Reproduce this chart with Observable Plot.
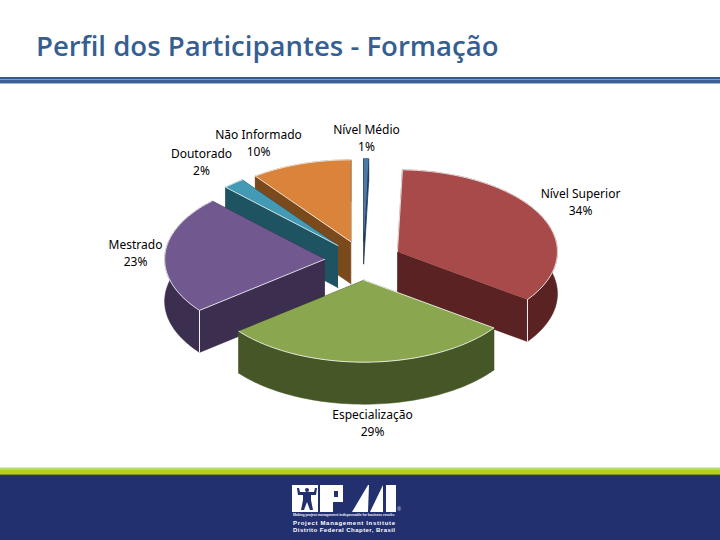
<!DOCTYPE html>
<html>
<head>
<meta charset="utf-8">
<script src="https://cdn.jsdelivr.net/npm/d3@7"></script>
<script src="https://cdn.jsdelivr.net/npm/@observablehq/plot@0.6"></script>
<style>
html,body{margin:0;padding:0;background:#fff;overflow:hidden}
#page{position:relative;width:720px;height:540px;overflow:hidden}
#title{position:absolute;left:36px;top:27px;font:600 27.55px/38px "Open Sans",sans-serif;color:#365f91;white-space:nowrap}
#rule{position:absolute;left:0;top:77px;width:720px;height:7px;background:linear-gradient(#35598c 0 2px,#7f9cc0 2px 3px,#3a5f94 3px 6px,#a9b9d0 6px 7px)}
#chart{position:absolute;left:0;top:90px}
#chart svg{display:block;background:transparent}
#foot{position:absolute;left:0;top:467px;width:720px;height:73px;background:#22306f}
#stripes{position:absolute;left:0;top:0;width:720px;height:9px;background:linear-gradient(#dfe9c8 0 1px,#b8d67a 1px 3px,#b6cf1e 3px 7px,#7f8f2a 7px 8px,#2c3a6a 8px 9px)}
#logo{position:absolute;left:0;top:0}
</style>
</head>
<body>
<div id="page">
  <div id="title">Perfil dos Participantes - Formação</div>
  <div id="rule"></div>
  <div id="chart"></div>
  <div id="foot">
    <div id="stripes"></div>
    <svg id="logo" width="720" height="73" viewBox="0 467 720 73">
      <rect x="292" y="485" width="104" height="27" fill="#fff"/>
      <g fill="#22306f">
        <circle cx="307" cy="490" r="2"/>
        <path d="M297 488l2 0 1 4h14l1-4h2l-1 7h-5v5l2 10h-3l-3-8-3 8h-3l2-10v-5h-5z"/>
        <rect x="318" y="485" width="2" height="27"/>
        <rect x="334" y="491" width="4" height="6"/>
        <path d="M333 502h10l0-17h10l-10 27h-10z"/>
        <path d="M369 485h14l-13 27h-2z"/>
        <path d="M343 485h25l-16 27h-9z"/>
        <rect x="383" y="485" width="3" height="27"/>
      </g>
      <text x="293" y="516" fill="#e6e9f4" font-family="Liberation Sans" font-weight="700" font-size="3.6" textLength="102">Making project management indispensable for business results.</text>
      <text x="293" y="524.6" fill="#fff" font-family="Liberation Sans" font-weight="700" font-size="6" textLength="102">Project Management Institute</text>
      <text x="293" y="532.4" fill="#fff" font-family="Liberation Sans" font-weight="700" font-size="6" textLength="102">Distrito Federal Chapter, Brasil</text>
      <text x="399" y="511" fill="#dfe3f0" font-family="Liberation Sans" font-size="5" text-anchor="middle">®</text>
    </svg>
  </div>
</div>
<script>
// Data, clockwise from twelve o'clock
const categories = ["Nível Médio","Nível Superior","Especialização","Mestrado","Doutorado","Não Informado"];
const shares     = [0.5, 34.4, 29.4, 23.3, 2.2, 10.2];
const percentLabels = ["1%","34%","29%","23%","2%","10%"];
const topColors  = ["#4a78a8","#a94a4a","#8aa64e","#71588f","#429ab4","#da843b"];
const sideColors = ["#1f3a5a","#5a2222","#465727","#3c2e4f","#1e5362","#7b4a1c"];

// Projection of the tilted pie (unit circle mapped to an ellipse by the scales)
const cx = 362.5, cy = 170, rx = 160, ry = 82;
const explode = 0.24, depth = 0.512, thinDepth = 0.28;
const labelCentres = {           // page pixels of the two-line label centres
  "Nível Médio":[366,136.5], "Nível Superior":[580,200.5], "Especialização":[372,421.5],
  "Mestrado":[135,251.5], "Doutorado":[201,160.5], "Não Informado":[258,141.5]
};
const drawOrder = ["Nível Médio","Não Informado","Doutorado","Mestrado","Nível Superior","Especialização"];
const cornerSlices = ["Mestrado","Nível Superior"];

const arcs = d3.pie().sort(null).value(d => d)(shares);
const polys = [];
let pid = 0;
function addPoly(pts, fill, stroke, strokeWidth){
  const id = pid++;
  pts.forEach(([x,y]) => polys.push({x,y,id,fill,stroke,strokeWidth}));
}
function sliceGeom(i){
  const a = arcs[i], mid = (a.startAngle + a.endAngle)/2;
  const ax = explode*Math.sin(mid), ay = explode*Math.cos(mid);
  const n = Math.max(2, Math.ceil((a.endAngle-a.startAngle)/0.03));
  const rim = d3.range(n+1).map(k => {
    const t = a.startAngle + (a.endAngle-a.startAngle)*k/n;
    return [ax+Math.sin(t), ay+Math.cos(t)];
  });
  return {ax, ay, rim};
}
drawOrder.forEach(name => {
  const i = categories.indexOf(name);
  const {ax, ay, rim} = sliceGeom(i);
  const d = shares[i] < 1 ? thinDepth : depth;
  const down = p => [p[0], p[1]-d];
  const first = rim[0], last = rim[rim.length-1];
  const side = sideColors[i];
  const sw = shares[i] < 1 ? 0.8 : 0.6;
  addPoly([[ax,ay],first,down(first),down([ax,ay])], side, side, sw);
  addPoly([[ax,ay],last,down(last),down([ax,ay])], side, side, sw);
  addPoly([...rim, ...rim.slice().reverse().map(down)], side, side, sw);
  if (cornerSlices.includes(name)) {
    const c = name === "Mestrado" ? first : last;
    addPoly([c, down(c)], "none", "#f4f4f4", 1);
  }
  addPoly([[ax,ay],...rim], topColors[i], shares[i] < 1 ? "none" : "#ffffff", 0.8);
});

const labels = categories.map((c,i) => ({
  text: c + "\n" + percentLabels[i],
  x: (labelCentres[c][0]-cx)/rx,
  y: -(labelCentres[c][1]-90-cy)/ry
}));

const chart = Plot.plot({
  width:720, height:375,
  margin:0,
  style:{background:"transparent",overflow:"visible"},
  x:{domain:[-1,1],range:[cx-rx,cx+rx],axis:null},
  y:{domain:[1,-1],range:[cy-ry,cy+ry],axis:null},
  color:{type:"identity"},
  marks:[
    Plot.line(polys,{x:"x",y:"y",z:"id",fill:"fill",stroke:"stroke",strokeWidth:"strokeWidth",curve:"linear",strokeLinejoin:"round"}),
    Plot.text(labels,{x:"x",y:"y",text:"text",fontSize:12,lineHeight:1.42,fill:"#000",textAnchor:"middle",fontFamily:"Noto Sans",letterSpacing:0.2})
  ]
});
document.getElementById("chart").appendChild(chart);
</script>
</body>
</html>
